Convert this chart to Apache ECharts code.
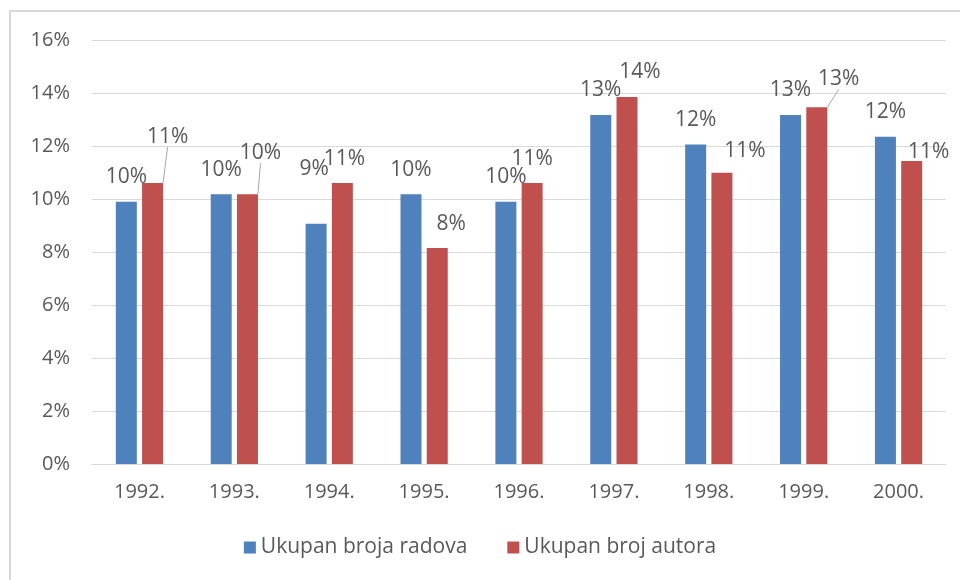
<!DOCTYPE html>
<html>
<head>
<meta charset="utf-8">
<script src="https://cdn.jsdelivr.net/npm/echarts@6/dist/echarts.min.js"></script>
<style>
    html, body { margin: 0; padding: 0; background: #fff; }
    #chart { width: 960px; height: 580px; }
</style>
</head>
<body>
<div id="chart"></div>
<script>
    var years = ['1992.', '1993.', '1994.', '1995.', '1996.', '1997.', '1998.', '1999.', '2000.']
    var radova = [9.9, 10.18, 9.07, 10.18, 9.9, 13.17, 12.06, 13.17, 12.35]
    var autora = [10.6, 10.18, 10.6, 8.15, 10.6, 13.85, 10.99, 13.46, 11.43]
    var yTicks = [0, 2, 4, 6, 8, 10, 12, 14, 16]

    // label nudges (Excel moved some labels around)
    var radovaShift = [[0, 0], [0, 0], [-2, -30], [0, 0], [0, 0], [0, 0], [0, 0], [0, 0], [0, 0]]
    var autoraShift = [[15, -22], [13, -17], [2, 0], [14, 0], [0, 0], [13, 0], [23, 3], [22, -4], [17, 15]]
    var autoraLeader = [true, true, false, false, false, false, false, true, false]

    var textColor = '#595959'
    var font = 'Open Sans, Liberation Sans, sans-serif'

    function labelText(p) {
        return Math.round(p.value) + '%'
    }

    var chart = echarts.init(document.getElementById('chart'))
    chart.setOption({
        animation: false,
        textStyle: { fontFamily: font },
        color: ['#4f81bd', '#c0504d'],
        graphic: [{
            type: 'polyline',
            shape: { points: [[10, 580], [10, 11], [960, 11]] },
            style: { stroke: '#d9d9d9', lineWidth: 2, fill: null }
        }],
        grid: { left: 92, right: 14, top: 40, bottom: 116 },
        legend: {
            bottom: 17,
            left: 'center',
            itemWidth: 12,
            itemHeight: 12,
            itemGap: 40,
            icon: 'rect',
            textStyle: { color: textColor, fontSize: 21, fontFamily: font }
        },
        xAxis: {
            type: 'category',
            data: years,
            axisTick: { show: false },
            axisLine: { lineStyle: { color: '#d9d9d9', width: 1 } },
            axisLabel: { color: textColor, fontSize: 20, margin: 18 }
        },
        yAxis: {
            type: 'value',
            min: yTicks[0],
            max: yTicks[yTicks.length - 1],
            interval: 2,
            axisLine: { show: false },
            axisTick: { show: false },
            splitLine: { lineStyle: { color: '#d9d9d9' } },
            axisLabel: { color: textColor, fontSize: 20, margin: 22, formatter: '{value}%' }
        },
        series: [
            {
                name: 'Ukupan broja radova',
                type: 'bar',
                barWidth: 21,
                barGap: '25%',
                data: radova,
                label: {
                    show: true,
                    position: 'top',
                    distance: 14,
                    color: textColor,
                    fontSize: 21,
                    formatter: labelText
                },
                labelLayout: function (p) {
                    var s = radovaShift[p.dataIndex]
                    return { dx: s[0], dy: s[1] }
                }
            },
            {
                name: 'Ukupan broj autora',
                type: 'bar',
                barWidth: 21,
                data: autora.map(function (v, i) {
                    return { value: v, labelLine: { show: autoraLeader[i] } }
                }),
                label: {
                    show: true,
                    position: 'top',
                    distance: 14,
                    color: textColor,
                    fontSize: 21,
                    formatter: labelText
                },
                labelLine: { show: false, lineStyle: { color: '#a6a6a6', width: 1 } },
                labelLayout: function (p) {
                    var s = autoraShift[p.dataIndex]
                    return { dx: s[0], dy: s[1] }
                }
            }
        ]
    })
</script>
</body>
</html>
